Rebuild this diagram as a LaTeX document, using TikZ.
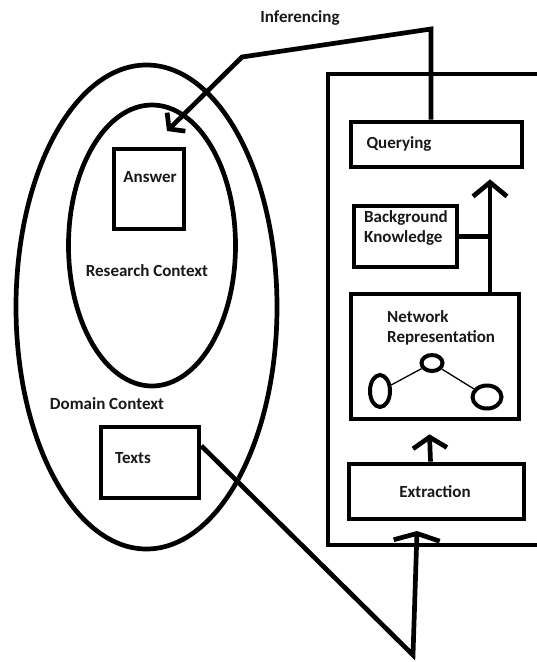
\documentclass[tikz,border=0pt]{standalone}
\usepackage{fontspec}
\setmainfont{Carlito}
\usetikzlibrary{arrows.meta,shapes.geometric,calc}

\begin{document}
\begin{tikzpicture}[x=1pt,y=-1pt,
  heavy/.style={line width=4.7pt},
  box/.style={draw, rectangle, heavy, inner sep=0pt},
  ring/.style={draw, ellipse, heavy, inner sep=0pt},
  dot/.style={draw, ellipse, line width=4pt, inner sep=0pt},
  lbl/.style={inner sep=0pt, font=\fontsize{17}{20}\selectfont\bfseries, text=black!90},
  tipq/.style={-{Straight Barb[length=14pt,width=34pt]}},
  tipm/.style={-{Straight Barb[length=11pt,width=34pt]}},
  tipe/.style={-{Straight Barb[length=7pt,width=46pt]}},
  tipi/.style={-{Straight Barb[length=10pt,width=26pt]}},
]
\useasboundingbox (0,0) rectangle (537,662);
\clip (0,0) rectangle (537,662);
\fill[white] (0,0) rectangle (537,662);

% contexts on the left
\node[ring, minimum width=261pt, minimum height=484pt] (domain) at (146.5,307) {};
\node[ring, minimum width=167pt, minimum height=281pt] (research) at (152,245.5) {};
\node[box, minimum width=70pt, minimum height=80pt] (answer) at (149,189) {};
\node[box, minimum width=98pt, minimum height=71pt] (texts) at (150,462.5) {};

\node[lbl] (answerlbl) at (150,177) {Answer};
\node[lbl] (researchlbl) at (147,271) {Research Context};
\node[lbl] (domainlbl) at (107,404) {Domain Context};
\node[lbl] (textslbl) at (133,458) {Texts};

% processing frame on the right, open towards the edge
\draw[heavy] (545,74) -- (328,74) -- (328,545) -- (545,545);

\node[box, minimum width=171pt, minimum height=45pt] (query) at (436.5,144.5) {};
\node[box, minimum width=103pt, minimum height=61pt] (bk) at (405.5,236.5) {};
\node[box, minimum width=168pt, minimum height=125pt] (nr) at (435,356.5) {};
\node[box, minimum width=175pt, minimum height=55pt] (ex) at (436.5,491.5) {};

\node[lbl] (querylbl) at (399,144) {Querying};
\node[lbl, anchor=west, align=left] (bklbl) at (364,228) {Background\\Knowledge};
\node[lbl, anchor=west, align=left] (nrlbl) at (387,328) {Network\\Representation};
\node[lbl] (exlbl) at (435,492) {Extraction};

% small network sketch
\node[dot, minimum width=20pt, minimum height=32pt] (n1) at (380,391) {};
\node[dot, minimum width=21pt, minimum height=16pt] (n2) at (432,363) {};
\node[dot, minimum width=29pt, minimum height=23pt] (n3) at (487,397) {};
\draw[line width=1.3pt] (n1) -- (n2);
\draw[line width=1.3pt] (n2) -- (n3);

% flow between the steps
\coordinate (upx) at (490,236);
\draw[heavy, tipq, shorten >=10pt] (nr.north -| upx) -- (query.south -| upx);
\draw[heavy] (bk.east) -- (bk.east -| upx);
\draw[heavy, tipm, shorten >=13pt] ([xshift=-6pt]ex.north) -- ([xshift=-6pt]nr.south);

% inferencing path back to the answer
\coordinate (infcorner) at (431,29);
\coordinate (infbend) at (242,57);
\coordinate (inftip) at (167,131);
\draw[heavy, tipi] (query.north -| infcorner) -- (infcorner) -- (infbend) -- (inftip);
\node[lbl] (inflbl) at (300,18) {Inferencing};

% texts feed the extraction step
\coordinate (low) at (413,655);
\coordinate (extip) at (417,531);
\draw[heavy, tipe] ($(texts.north east)!0.28!(texts.south east)$) -- (low) -- (extip);
\end{tikzpicture}
\end{document}
